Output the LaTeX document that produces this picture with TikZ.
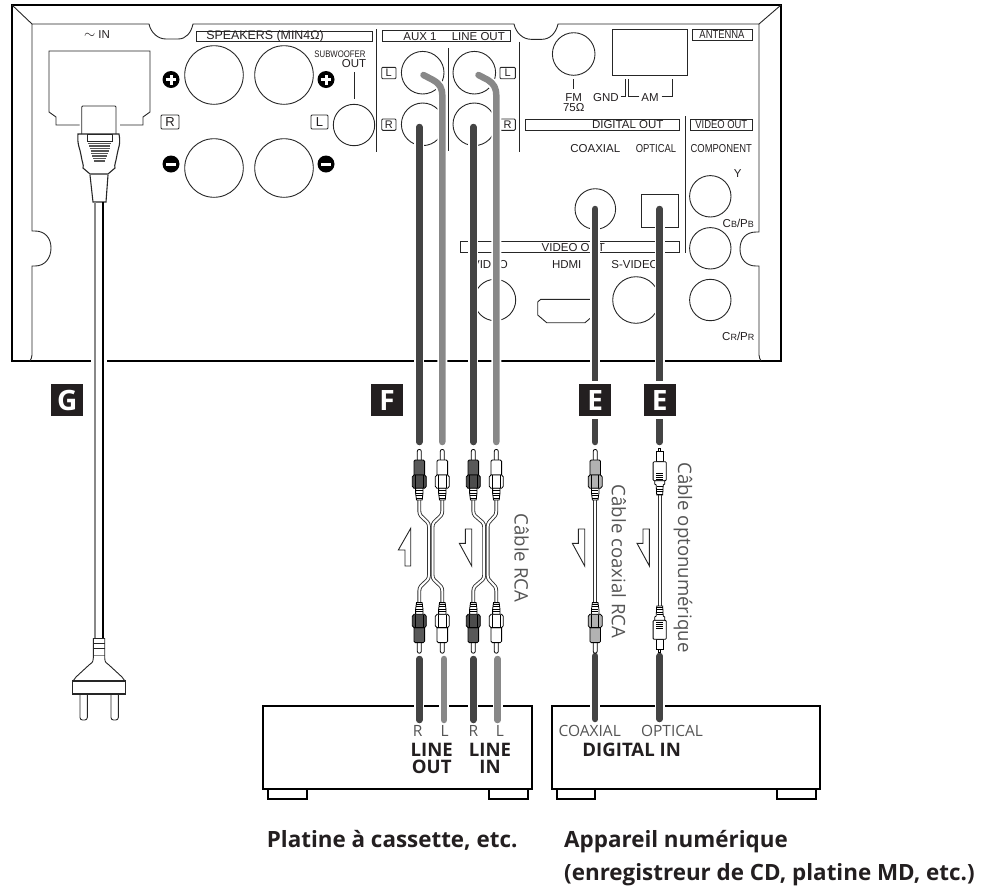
\documentclass[tikz,border=0pt]{standalone}
\usepackage{fontspec}
\setmainfont{Open Sans}
\newfontfamily\panelfont{Liberation Sans}
\newfontfamily\narrowfont[FakeStretch=0.82]{Liberation Sans}
\definecolor{ink}{HTML}{231F20}
\definecolor{cabledk}{HTML}{444444}
\definecolor{cablelt}{HTML}{888888}
\definecolor{softink}{HTML}{555555}
\tikzset{
  wall/.style={draw=black, line width=2pt, line join=miter},
  edge/.style={draw=black!85, line width=0.9pt},
  jack/.style={draw=black!85, line width=0.9pt},
  tag/.style={draw=black!85, line width=0.9pt, fill=white},
  halo/.style={white, line width=10pt},
  cabledark/.style={cabledk, line width=6.5pt, line cap=round},
  cablegrey/.style={cablelt, line width=6.5pt, line cap=round},
  thincable/.style={draw=black!80, double=white, double distance=2pt, line width=0.9pt},
  plugline/.style={draw=black, line width=0.8pt},
  panel/.style={font=\panelfont\fontsize{11.5}{12}\selectfont, text=ink, inner sep=0pt},
  panelnarrow/.style={font=\narrowfont\fontsize{11.5}{12}\selectfont, text=ink, inner sep=0pt},
  badge/.style={fill=ink, draw=white, line width=3pt, minimum size=35pt, inner sep=0pt, text=white, font=\bfseries\fontsize{28}{28}\selectfont},
  thin label/.style={font=\fontsize{15.5}{16}\selectfont, text=softink, inner sep=0pt},
  bold label/.style={font=\bfseries\fontsize{18.6}{18.6}\selectfont, text=ink, inner sep=0pt},
  caption/.style={font=\bfseries\fontsize{22.4}{22.4}\selectfont, text=ink, inner sep=0pt, anchor=base west},
  side label/.style={font=\fontsize{18.6}{19}\selectfont, text=softink, inner sep=0pt, rotate=-90},
  flag/.style={draw=black!85, line width=0.9pt, fill=white},
}
% one RCA plug: x, yscale (1 upper, -1 lower), body colour, collar colour
\newcommand{\rcaplug}[4]{
  \begin{scope}[shift={(#1,551.3)}, yscale=#2]
    \draw[plugline, fill=white] (-2,-91.3) -- (-2,-100) .. controls (-2,-102.5) and (2,-102.5) .. (2,-100) -- (2,-91.3);
    \draw[plugline, fill=#3] (-5.3,-76.3) -- (-5.3,-90) -- (-4,-91.3) -- (4,-91.3) -- (5.3,-90) -- (5.3,-76.3) -- cycle;
    \draw[plugline, fill=#4] (-5.3,-76.3) -- (-7,-74.5) -- (-7,-65) -- (-5.3,-63) -- (5.3,-63) -- (7,-65) -- (7,-74.5) -- (5.3,-76.3) -- cycle;
    \draw[plugline] (-3.6,-76) -- (-3.6,-63.3) (3.6,-76) -- (3.6,-63.3);
    \draw[plugline, fill=white] (-3.7,-63) -- (-3.7,-58) -- (-2.8,-51.3) -- (2.8,-51.3) -- (3.7,-58) -- (3.7,-63) -- cycle;
    \foreach \y in {-60.5,-58,-55.5,-53} {
      \draw[black, line width=1pt] (-3.2,\y) -- (3.2,\y);
    }
  \end{scope}
}
% one optical plug: x, yscale
\newcommand{\optplug}[2]{
  \begin{scope}[shift={(#1,550.5)}, yscale=#2]
    \draw[plugline, fill=white] (-1,-89.8) -- (-1,-102) -- (1,-102) -- (1,-89.8) -- cycle;
    \draw[plugline, fill=white] (-3.6,-88.8) -- (-3.6,-99) -- (3.6,-99) -- (3.6,-88.8) -- cycle;
    \draw[plugline, fill=white, rounded corners=1pt] (-6.6,-69.8) -- (-6.6,-88.8) -- (6.6,-88.8) -- (6.6,-69.8) -- cycle;
    \foreach \y in {-77.5,-75.5,-73.5,-71.5} {
      \draw[black, line width=0.8pt] (-3.7,\y) -- (3.7,\y);
    }
    \draw[plugline, fill=white] (-5,-69.8) -- (-5,-66.5) -- (-3.5,-65.5) -- (-3,-55.5) -- (3,-55.5) -- (3.5,-65.5) -- (5,-66.5) -- (5,-69.8) -- cycle;
    \foreach \y in {-64,-61.5,-59,-56.5} {
      \draw[black, line width=1pt] (-3,\y) -- (3,\y);
    }
  \end{scope}
}
% the split lead between a pair of plugs: x of plug, x at the middle
\newcommand{\ylead}[2]{
  \draw[thincable] (#1,500) -- (#1,511) .. controls (#1,519) and (#2,519) .. (#2,527) -- (#2,575) .. controls (#2,583) and (#1,583) .. (#1,591) -- (#1,603);
}

\begin{document}
\begin{tikzpicture}[x=1pt, y=-1pt]
\useasboundingbox (0,0) rectangle (991,887);

% Cable ends
\coordinate (auxR) at (419.3,127);
\coordinate (auxRplug) at (419.3,442);
\coordinate (auxLbend) at (433,80);
\coordinate (auxL) at (423.5,75);
\coordinate (auxLplug) at (442.3,442);
\coordinate (outR) at (473.3,127);
\coordinate (outRplug) at (473.3,442);
\coordinate (outL) at (478.5,75);
\coordinate (outLplug) at (496.3,442);
\coordinate (coax) at (595.2,209);
\coordinate (coaxplug) at (595.2,442);
\coordinate (opt) at (659.7,209);
\coordinate (optplug) at (659.7,442);
\coordinate (tapeOutR) at (419.3,659);
\coordinate (tapeOutRend) at (419.3,720);
\coordinate (tapeOutL) at (444,659);
\coordinate (tapeOutLend) at (444,720);
\coordinate (tapeInR) at (473.3,659);
\coordinate (tapeInRend) at (473.3,720);
\coordinate (tapeInL) at (497.7,659);
\coordinate (tapeInLend) at (497.7,720);
\coordinate (digCoax) at (595.2,656);
\coordinate (digCoaxend) at (595.2,719);
\coordinate (digOpt) at (659.7,656);
\coordinate (digOptend) at (659.7,719);

% Back panel
\draw[wall] (12,5) rectangle (781,361);
\draw[edge] (12,5) -- (32,24);
\draw[edge] (781,5) -- (759,24);
\draw[edge] (30,361) .. controls (31,359) and (32,357) .. (32,355) -- (32,266) -- (35,266) .. controls (45,266) and (51,258) .. (51,248) .. controls (51,238) and (45,231) .. (35,231) -- (32,231) -- (32,24)
  -- (149,24) .. controls (151,33) and (158,39) .. (166,39) -- (178,39) .. controls (186,39) and (191,33) .. (193,24)
  -- (514,24) .. controls (516,33) and (523,39.3) .. (531,39.3) -- (542,39.3) .. controls (550,39.3) and (556,33) .. (558,24)
  -- (759,24) -- (759,232) -- (756,232) .. controls (746,232) and (740,239) .. (740,249) .. controls (740,259) and (746,266) .. (756,266) -- (759,266) -- (759,355) .. controls (759,357) and (760,359) .. (761,361);

% Label boxes
\draw[tag] (196,31) rectangle (372,41.5);
\draw[tag] (382.7,30.7) rectangle (510.7,41.7);
\draw[tag] (692.3,29) rectangle (752.3,40);
\draw[tag] (525,119.3) rectangle (679.7,130.3);
\draw[tag] (690.7,119.3) rectangle (752.3,130.3);
\draw[tag] (460.3,241.7) rectangle (679.7,252.7);
\draw[tag, rounded corners=1pt] (161,115) rectangle (179,129);
\draw[tag, rounded corners=1pt] (311,115) rectangle (328,129);
\draw[tag, rounded corners=1pt] (381.7,67.3) rectangle (396,78.7);
\draw[tag, rounded corners=1pt] (381.7,119) rectangle (396,130.3);
\draw[tag, rounded corners=1pt] (500,67.3) rectangle (515.3,78.7);
\draw[tag, rounded corners=1pt] (500,119) rectangle (515.3,130.3);

% Dividers
\draw[edge, line width=1.2pt] (376.7,29) -- (376.7,152);
\draw[edge] (448.7,48.3) -- (448.7,150.7);
\draw[edge] (519.7,41.7) -- (519.7,151.7);
\draw[edge] (685,116) -- (685,252.7);
\draw[edge] (354,72) -- (354,99);
\draw[edge] (573.7,79.3) -- (573.7,89.3);
\draw[edge] (620.7,96.7) -- (625,96.7) -- (625,79.3);
\draw[edge] (639.3,96.7) -- (628.3,96.7) -- (628.3,79.3);
\draw[edge] (661.7,96.7) -- (672.3,96.7) -- (672.3,79.3);

% Sockets
\foreach \x/\y in {214/75, 284/75, 214/168, 284/168} {
  \draw[jack] (\x,\y) circle (29.3pt);
}
\draw[jack] (354,125) circle (20.7pt);
\foreach \x/\y in {422.7/72.7, 422.7/124.3, 474.3/72.7, 474.3/124.3, 573.7/54} {
  \draw[jack] (\x,\y) circle (21.3pt);
}
\foreach \x/\y in {710.3/196.3, 710.3/248.3, 710.3/300, 495/300} {
  \draw[jack] (\x,\y) circle (20.7pt);
}
\draw[jack] (595.3,209) circle (20.3pt);
\draw[jack] (636,300) circle (23.3pt);
\draw[jack] (641.7,194.7) rectangle (678.7,227.7);
\draw[jack] (612,29) rectangle (687.3,75.7);
\draw[jack] (597,299.3) -- (540.7,299.3) -- (537.7,302) -- (537.7,315) -- (546.7,322.7) -- (585,322.7) -- (594,315);

% Terminal signs
\foreach \x in {171,326} {
  \fill[black] (\x,79.5) circle (8.5pt);
  \fill[white] (\x-5,78) rectangle (\x+5,81);
  \fill[white] (\x-1.5,74.5) rectangle (\x+1.5,84.5);
  \fill[black] (\x,164) circle (8.5pt);
  \fill[white] (\x-5,162.5) rectangle (\x+5,165.5);
}

% Mains inlet and plug
\draw[edge] (79.5,125) -- (56,125) -- (56,117) -- (49,112) -- (49,51) -- (150,51) -- (150,112) -- (143,117) -- (143,125) -- (120,125);
\draw[edge, rounded corners=1pt] (81.7,134) -- (81.7,106) -- (116,106) -- (116,134);
\draw[edge, line width=1.1pt] (78,134) .. controls (77,145) and (80,148) .. (81,155) .. controls (82,162) and (84,165) .. (83,168) -- (90,174) -- (108,174) -- (115,168) .. controls (114,165) and (116,162) .. (117,155) .. controls (118,148) and (121,145) .. (119,134) -- cycle;
\draw[edge] (87,134) rectangle (112,141);
\foreach \y/\w in {143.5/11.5, 146/10.5, 148.5/10, 151/9, 153.5/8.5, 156/7.5, 158.5/6.5, 161/5.5} {
  \draw[softink, line width=1.2pt] (99.5-\w,\y) -- (99.5+\w,\y);
}
\draw[edge, line width=1.1pt] (90,175) -- (93,202) -- (106,202) -- (108,175);
\draw[white, line width=16pt] (99,340) -- (99,370);
\draw[cablelt, line width=1.5pt] (95,202) -- (95,638);
\draw[black, line width=1.1pt] (103,202) -- (103,638);
\draw[edge] (93.3,638) -- (104.7,638) (93.3,643) -- (104.7,643) (93.3,648) -- (104.7,648);
\draw[cablelt, line width=1pt] (93.3,655) -- (104.7,655);
\draw[edge] (93.3,638) -- (93.3,658) .. controls (93.3,663) and (91,663) .. (89,665) -- (76,677) -- (73,681);
\draw[edge] (104.7,638) -- (104.7,658) .. controls (104.7,663) and (107,663) .. (109,665) -- (122,677) -- (125,681);
\draw[edge, line width=1.1pt] (72.5,681) rectangle (125.5,694);
\draw[edge, rounded corners=2.5pt] (80,694) -- (80,720) -- (87.3,720) -- (87.3,694);
\draw[edge, rounded corners=2.5pt] (111,694) -- (111,720) -- (118.3,720) -- (118.3,694);

% Panel texts
\node[panel, font=\panelfont\fontsize{12.4}{13}\selectfont] (spk) at (265,36) {SPEAKERS (MIN4Ω)};
\node[panel] (acin) at (97,35) {{\fontsize{15}{15}\selectfont$\sim$} IN};
\node[panel, font=\panelfont\fontsize{13}{13}\selectfont] (rspk) at (170,122) {R};
\node[panel, font=\panelfont\fontsize{13}{13}\selectfont] (lspk) at (319.5,122) {L};
\node[panelnarrow, font=\narrowfont\fontsize{9.5}{10}\selectfont] (sub) at (340,54) {SUBWOOFER};
\node[panel] (subout) at (354,64) {OUT};
\node[panel] (aux) at (420,36.5) {AUX 1};
\node[panel] (lout) at (478.3,36.5) {LINE OUT};
\node[panel, font=\panelfont\fontsize{11}{11}\selectfont] (lbA) at (388.8,73) {L};
\node[panel, font=\panelfont\fontsize{11}{11}\selectfont] (rbA) at (388.8,124.7) {R};
\node[panel, font=\panelfont\fontsize{11}{11}\selectfont] (lbB) at (507.7,73) {L};
\node[panel, font=\panelfont\fontsize{11}{11}\selectfont] (rbB) at (507.7,124.7) {R};
\node[panel] (fm) at (573.7,97.3) {FM};
\node[panel] (ohm) at (573.7,107.3) {75Ω};
\node[panel] (gnd) at (606,97.3) {GND};
\node[panel] (am) at (650,97.3) {AM};
\node[panelnarrow] (ant) at (722,34.5) {ANTENNA};
\node[panel] (dout) at (627.7,125) {DIGITAL OUT};
\node[panelnarrow] (vout) at (721.3,125) {VIDEO OUT};
\node[panel] (pcoax) at (595.3,148.7) {COAXIAL};
\node[panelnarrow] (popt) at (656,148.7) {OPTICAL};
\node[panelnarrow] (comp) at (721.3,148.7) {COMPONENT};
\node[panel] (ycomp) at (737.7,173.3) {Y};
\node[panel] (cb) at (738.3,223.3) {C{\fontsize{9}{9}\selectfont B}/P{\fontsize{9}{9}\selectfont B}};
\node[panel] (cr) at (738.3,336.7) {C{\fontsize{9}{9}\selectfont R}/P{\fontsize{9}{9}\selectfont R}};
\node[panel] (vout2) at (573.3,247.3) {VIDEO OUT};
\node[panel] (vid) at (490,265) {VIDEO};
\node[panel] (hdmi) at (566.7,265) {HDMI};
\node[panel] (svid) at (635,265) {S-VIDEO};

% Devices
\draw[wall] (268,789.3) rectangle (307,799);
\draw[wall] (489,789.3) rectangle (527.7,799);
\draw[wall] (556.7,789.3) rectangle (595,799);
\draw[wall] (777,789.3) rectangle (816,799);
\draw[wall, fill=white] (263.3,706) rectangle (532,789.3);
\draw[wall, fill=white] (551.7,706) rectangle (820,789.3);

% Cables, each on a white band
\draw[halo, line cap=round] (auxR) -- (auxRplug);
\draw[halo, line cap=round] (auxL) -- (auxLbend) .. controls (440,84) and (442.3,88) .. (442.3,96) -- (auxLplug);
\draw[halo, line cap=round] (outR) -- (outRplug);
\draw[halo, line cap=round] (outL) -- (488,80) .. controls (494,84) and (496.3,88) .. (496.3,96) -- (outLplug);
\draw[halo, line cap=round] (coax) -- (coaxplug);
\draw[halo, line cap=round] (opt) -- (optplug);
\draw[cabledark] (auxR) -- (auxRplug);
\draw[cablegrey] (auxL) -- (auxLbend) .. controls (440,84) and (442.3,88) .. (442.3,96) -- (auxLplug);
\draw[cabledark] (outR) -- (outRplug);
\draw[cablegrey] (outL) -- (488,80) .. controls (494,84) and (496.3,88) .. (496.3,96) -- (outLplug);
\draw[cabledark] (coax) -- (coaxplug);
\draw[cabledark] (opt) -- (optplug);
\foreach \a/\b/\c in {tapeOutR/tapeOutRend/cabledark, tapeOutL/tapeOutLend/cablegrey, tapeInR/tapeInRend/cabledark, tapeInL/tapeInLend/cablegrey, digCoax/digCoaxend/cabledark, digOpt/digOptend/cabledark} {
  \draw[halo] (\a) -- (\b);
  \draw[\c] (\a) -- (\b);
}

% Plugs and leads
\ylead{419.3}{429}
\ylead{442.3}{432.5}
\ylead{473.3}{484.2}
\ylead{496.3}{487.6}
\draw[thincable] (595.2,500) -- (595.2,603);
\draw[thincable] (659.7,495) -- (659.7,606);
\rcaplug{419.3}{1}{black!65}{black!70}
\rcaplug{442.3}{1}{white}{white}
\rcaplug{473.3}{1}{black!65}{black!70}
\rcaplug{496.3}{1}{white}{white}
\rcaplug{419.3}{-1}{black!65}{black!70}
\rcaplug{442.3}{-1}{white}{white}
\rcaplug{473.3}{-1}{black!65}{black!70}
\rcaplug{496.3}{-1}{white}{white}
\rcaplug{595.2}{1}{black!30}{black!30}
\rcaplug{595.2}{-1}{black!30}{black!30}
\optplug{659.7}{1}
\optplug{659.7}{-1}

% Direction flags
\draw[flag] (410.7,528.3) -- (398.3,550) -- (405,550) -- (405,566) -- (410.7,566) -- cycle;
\foreach \dx in {0,113,177.7} {
  \draw[flag] (471.7+\dx,566) -- (459.3+\dx,543.3) -- (465.3+\dx,543.3) -- (465.3+\dx,529) -- (471.7+\dx,529) -- cycle;
}

% Badges
\node[badge] (badgeG) at (67.2,400) {G};
\node[badge] (badgeF) at (387,400) {F};
\node[badge] (badgeEa) at (595.2,400) {E};
\node[badge] (badgeEb) at (659.7,400) {E};

% Labels
\node[side label] (rcaname) at (521.7,558) {Câble RCA};
\node[side label] (coaxname) at (619,561.5) {Câble coaxial RCA};
\node[side label] (optname) at (683,557.5) {Câble optonumérique};

\node[thin label] (lblR1) at (417.7,730.7) {R};
\node[thin label] (lblL1) at (444.7,730.7) {L};
\node[thin label] (lblR2) at (473.3,730.7) {R};
\node[thin label] (lblL2) at (500,730.7) {L};
\node[thin label] (lblCoax) at (589.7,730.7) {COAXIAL};
\node[thin label] (lblOpt) at (672,730.7) {OPTICAL};
\node[bold label] (lineA) at (431.7,750) {LINE};
\node[bold label] (outA) at (431.7,766.7) {OUT};
\node[bold label] (lineB) at (490,750) {LINE};
\node[bold label] (inB) at (490,766.7) {IN};
\node[bold label] (digin) at (631.7,750) {DIGITAL IN};

\node[caption] (tapecap) at (266.7,847.7) {Platine à cassette, etc.};
\node[caption] (digcapA) at (564,847.7) {Appareil numérique};
\node[caption] (digcapB) at (564,880) {(enregistreur de CD, platine MD, etc.)};

\end{tikzpicture}
\end{document}
